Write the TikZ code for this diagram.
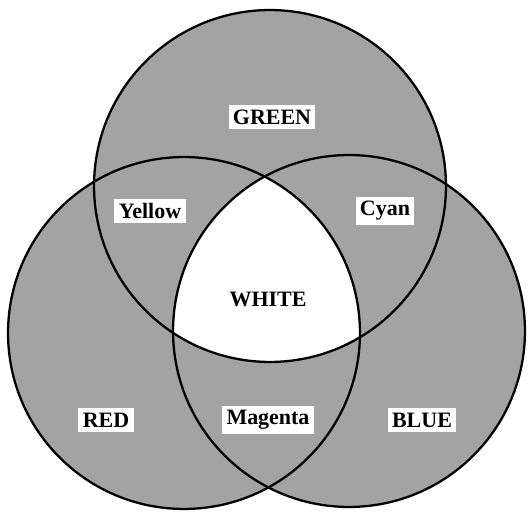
\documentclass[tikz,border=0pt]{standalone}
\usepackage{fontspec}
\setmainfont{Liberation Serif}
\begin{document}
\begin{tikzpicture}[x=0.02cm,y=-0.02cm,
  lbl/.style={fill=white,inner sep=2.5pt,font=\fontsize{12.5}{14}\selectfont\bfseries}]
  \useasboundingbox (0,0) rectangle (528,513);
  % Circle centres
  \coordinate (green) at (270,186);
  \coordinate (red) at (184,333);
  \coordinate (blue) at (349,331);
  % Shaded discs
  \foreach \c in {green,red,blue}
    \fill[black!36] (\c) circle[radius=3.52cm];
  % Common part of all three stays white
  \begin{scope}
    \clip (green) circle[radius=3.52cm];
    \clip (red) circle[radius=3.52cm];
    \fill[white] (blue) circle[radius=3.52cm];
  \end{scope}
  % Outlines
  \foreach \c in {green,red,blue}
    \draw[line width=1.3pt] (\c) circle[radius=3.52cm];
  % Primary colours
  \node[lbl] (lgreen) at (272,117) {GREEN};
  \node[lbl] (lred) at (106,420) {RED};
  \node[lbl] (lblue) at (422,420) {BLUE};
  % Mixtures
  \node[lbl] (lyellow) at (150,211) {Yellow};
  \node[lbl] (lcyan) at (385,211) {Cyan};
  \node[lbl] (lmagenta) at (268,420) {Magenta};
  \node[lbl] (lwhite) at (268,299) {WHITE};
\end{tikzpicture}
\end{document}
